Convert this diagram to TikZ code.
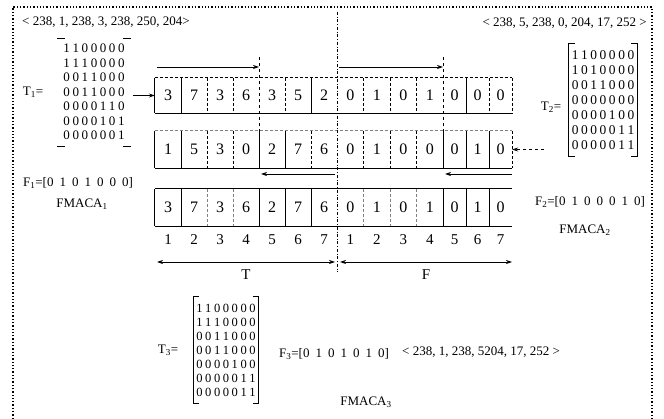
\documentclass[tikz,border=0pt]{standalone}
\usepackage{fontspec}
\setmainfont{Liberation Serif}
\usetikzlibrary{arrows.meta}
\newcommand\mrow[7]{#1\hspace{2.6pt}#2\hspace{2.6pt}#3\hspace{2.6pt}#4\hspace{2.6pt}#5\hspace{2.6pt}#6\hspace{2.6pt}#7}
\begin{document}
\begin{tikzpicture}[x=1pt,y=-1pt,
  >={Stealth[length=6pt,width=4pt]},
  every node/.style={inner sep=0pt},
  num/.style={font=\fontsize{16}{16}\selectfont},
  idx/.style={font=\fontsize{15}{15}\selectfont},
  lbl/.style={font=\fontsize{13}{13}\selectfont},
  mat/.style={font=\fontsize{13}{14.5}\selectfont, align=center},
  rowbox/.style={minimum width=357pt, minimum height=#1, draw=none},
  frameline/.style={dotted, line width=1.3pt},
  conn/.style={->, line width=0.8pt},
  bar/.style={line width=0.8pt},
  thinbar/.style={line width=0.6pt, densely dashed},
  crossline/.style={dashed, line width=0.7pt},
  brk/.style={line width=0.8pt},
]
\def\s{\hspace{6pt}}
\useasboundingbox (0,0) rectangle (664,419);
% frame
\coordinate (fbl) at (13,419); \coordinate (ftl) at (13,7);
\coordinate (ftr) at (652,7); \coordinate (fbr) at (652,419);
\draw[frameline] (fbl) -- (ftl) -- (ftr) -- (fbr);

% tuples
\node[lbl, anchor=west] (tupA) at (22,22) {< 238, 1, 238, 3, 238, 250, 204>};
\node[lbl, anchor=east] (tupB) at (647,23) {< 238, 5, 238, 0, 204, 17, 252 >};
\node[lbl, anchor=west] (tupC) at (402,352) {< 238, 1, 238, 5204, 17, 252 >};

% rows
\node[rowbox=35pt] (row1) at (333.5,95.5) {};
\node[rowbox=37pt] (row2) at (333.5,149.5) {};
\node[rowbox=37pt] (row3) at (333.5,207.5) {};

% row 1 outline
\draw[thinbar] (row1.north west) -- (row1.north east);
\draw[bar, line width=1.1pt] (row1.south west) -- (row1.south east);
\draw[bar] (row1.north west) -- (row1.south west);
\draw[thinbar] (row1.north east) -- (row1.south east);
\foreach \x in {181,311,466} \draw[bar] (\x,78) -- (\x,113);
\foreach \x in {207,233,285,363.5,390,416.5,489} \draw[thinbar] (\x,78) -- (\x,113);
% row 2 outline
\draw[thinbar, gray] (row2.north west) -- (row2.north east);
\draw[bar, line width=1.1pt] (row2.south west) -- (row2.south east);
\draw[bar] (row2.north west) -- (row2.south west);
\draw[thinbar] (row2.north east) -- (row2.south east);
\foreach \x in {181,259,285,443,466,489} \draw[bar] (\x,131) -- (\x,168);
\foreach \x in {207,233,311,363.5,390,416.5} \draw[thinbar] (\x,131) -- (\x,168);
% row 3 outline
\draw[bar, line width=1.1pt] (row3.north west) -- (row3.north east);
\draw[bar, line width=1.1pt] (row3.south west) -- (row3.south east);
\draw[bar] (row3.north west) -- (row3.south west);
\foreach \x in {181,259,285,311,443,466,489} \draw[bar] (\x,189) -- (\x,226);
\foreach \x in {207,233,363.5,390,416.5} \draw[thinbar, gray] (\x,189) -- (\x,226);

% column centres
\foreach \cx [count=\i] in {168,194,220,246,272,298,324,350.25,376.75,403.25,429.75,454.5,477.5,500.5}
  \coordinate (c\i) at (\cx,0);
\coordinate (idxrow) at (0,240);

\foreach \d [count=\i] in {3,7,3,6,3,5,2,0,1,0,1,0,0,0}
  \node[num] (a\i) at (c\i |- row1) {\d};
\foreach \d [count=\i] in {1,5,3,0,2,7,6,0,1,0,0,0,1,0}
  \node[num] (b\i) at (c\i |- row2) {\d};
\foreach \d [count=\i] in {3,7,3,6,2,7,6,0,1,0,1,0,1,0}
  \node[num] (o\i) at (c\i |- row3) {\d};
\foreach \d [count=\i] in {1,2,3,4,5,6,7,1,2,3,4,5,6,7}
  \node[idx] (n\i) at (c\i |- idxrow) {\d};

% centre line and crossover lines
\coordinate (ctop) at (337,12); \coordinate (cbot) at (337,272);
\draw[dash dot, line width=0.7pt] (ctop) -- (cbot);
\coordinate (x1t) at (259,57); \coordinate (x1b) at (259,131);
\coordinate (x2t) at (443,57); \coordinate (x2b) at (443,131);
\draw[crossline] (x1t) -- (x1b);
\draw[crossline] (x2t) -- (x2b);

% arrows above row 1
\coordinate (pT1) at (157,67); \coordinate (qT1) at (259,67);
\coordinate (pF1) at (339,67); \coordinate (qF1) at (443,67);
\draw[conn] (pT1) -- (qT1);
\draw[conn] (pF1) -- (qF1);
% arrows below row 2
\coordinate (pT2) at (335,174); \coordinate (qT2) at (261,174);
\coordinate (pF2) at (512,174); \coordinate (qF2) at (445,174);
\draw[conn] (pT2) -- (qT2);
\draw[conn] (pF2) -- (qF2);
% T / F spans
\coordinate (tl) at (157,262); \coordinate (tr) at (335,262);
\coordinate (fl) at (340,262); \coordinate (fr) at (512,262);
\draw[<->, line width=0.8pt] (tl) -- (tr);
\draw[<->, line width=0.8pt] (fl) -- (fr);
\node[idx] (Tlab) at (246,275) {T};
\node[idx] (Flab) at (426,275) {F};

% matrices
\node[mat] (T1m) at (94,92) {\mrow1100000\\\mrow1110000\\\mrow0011000\\\mrow0011000\\\mrow0000110\\\mrow0000101\\\mrow0000001};
\node[lbl] (T1l) at (33,92) {T\textsubscript{1}=};
\draw[brk] ([xshift=-6pt,yshift=6pt]T1m.north west) -- ++(8,0);
\draw[brk] ([xshift=6pt,yshift=6pt]T1m.north east) -- ++(-8,0);
\draw[brk] ([xshift=-6pt,yshift=-6pt]T1m.south west) -- ++(8,0);
\draw[brk] ([xshift=6pt,yshift=-6pt]T1m.south east) -- ++(-8,0);
\draw[conn, shorten <=8pt] (T1m.east |- row1.west) -- (row1.west);

\node[mat, font=\fontsize{13.4}{15}\selectfont] (T2m) at (603,100) {\mrow1100000\\\mrow1010000\\\mrow0011000\\\mrow0000000\\\mrow0000100\\\mrow0000011\\\mrow0000011};
\node[lbl] (T2l) at (551,107) {T\textsubscript{2}=};
\draw[brk] ([xshift=3pt,yshift=7pt]T2m.north west) -- ++(-6,0) -- ([xshift=-3pt,yshift=-7pt]T2m.south west) -- ++(6,0);
\draw[brk] ([xshift=-3pt,yshift=7pt]T2m.north east) -- ++(6,0) -- ([xshift=3pt,yshift=-7pt]T2m.south east) -- ++(-6,0);
\draw[conn, dashed, shorten <=28pt] (T2m.west |- row2.east) -- (row2.east);

\node[mat, font=\fontsize{12.5}{14}\selectfont] (T3m) at (226,350) {\mrow1100000\\\mrow1110000\\\mrow0011000\\\mrow0011000\\\mrow0000100\\\mrow0000011\\\mrow0000011};
\node[lbl] (T3l) at (168,350) {T\textsubscript{3}=};
\draw[brk] ([xshift=3pt,yshift=7pt]T3m.north west) -- ++(-6,0) -- ([xshift=-3pt,yshift=-7pt]T3m.south west) -- ++(6,0);
\draw[brk] ([xshift=-3pt,yshift=7pt]T3m.north east) -- ++(6,0) -- ([xshift=3pt,yshift=-7pt]T3m.south east) -- ++(-6,0);

% F vectors
\node[lbl] (F1l) at (78,183) {F\textsubscript{1}=[0\s1\s0\s1\s0\s0\s0]};
\node[lbl] (F2l) at (590,202) {F\textsubscript{2}=[0\s1\s0\s0\s0\s1\s0]};
\node[lbl] (F3l) at (334,354) {F\textsubscript{3}=[0\s1\s0\s1\s0\s1\s0]};

% FMACA labels
\node[lbl] (M1) at (82,204) {FMACA\textsubscript{1}};
\node[lbl] (M2) at (585,230) {FMACA\textsubscript{2}};
\node[lbl] (M3) at (366,402) {FMACA\textsubscript{3}};
\end{tikzpicture}
\end{document}
